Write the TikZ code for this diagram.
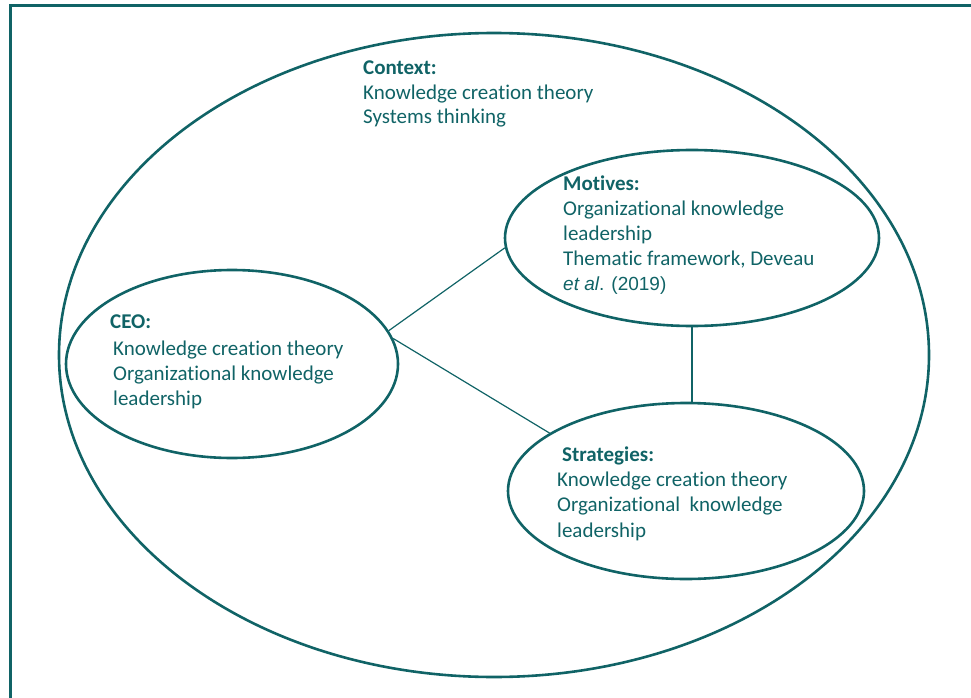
\documentclass[tikz,border=0pt]{standalone}
\usepackage{fontspec}
\setmainfont{Carlito}[Ligatures={NoCommon}]
\newfontfamily\arialfont{Liberation Sans}
\usetikzlibrary{shapes.geometric}
\definecolor{teal1}{RGB}{16,99,102}
\begin{document}
\begin{tikzpicture}[x=1pt,y=-1pt,
  oval/.style={draw=teal1,ellipse,inner sep=0pt,line width=2.6pt},
  link/.style={draw=teal1,line width=1.2pt},
  frame/.style={draw=teal1,line width=3.5pt},
  txt/.style={anchor=base west,inner sep=0pt,text=teal1,font=\fontsize{21}{25}\selectfont},
  ttl/.style={txt,font=\fontsize{21}{25}\selectfont\bfseries}]
\useasboundingbox (0,0) rectangle (971,698);
% frame
\coordinate (fa) at (10.5,698);
\coordinate (fb) at (10.5,4);
\coordinate (fc) at (971,5.5);
\draw[frame] (fa) -- (fb |- fc) -- (fc);
% ellipses
\node[oval,minimum width=870pt,minimum height=644pt] (outer) at (494,355) {};
\node[oval,minimum width=332pt,minimum height=188pt] (ceo) at (232,364) {};
\node[oval,minimum width=374pt,minimum height=176pt] (mot) at (692,238) {};
\node[oval,minimum width=356pt,minimum height=176pt] (str) at (686,491) {};
% connectors
\draw[link] (ceo.12) -- (mot.183.5);
\draw[link] (ceo.9) -- (str.157);
\draw[link] (mot.270) -- (mot.270 |- str.north);
% context
\node[ttl] (c0) at (363,75) {Context:};
\node[txt] (c1) at (363,100) {Knowledge creation theory};
\node[txt] (c2) at (363,124) {Systems thinking};
% motives
\node[ttl] (m0) at (563,190) {Motives:};
\node[txt] (m1) at (563,215) {Organizational knowledge};
\node[txt] (m2) at (563,240) {leadership};
\node[txt] (m3) at (563,265) {Thematic framework, Deveau};
\node[txt,font=\fontsize{19}{23}\arialfont] (m4) at (563,290) {\textit{et al}. (2019)};
% ceo
\node[ttl] (e0) at (110,328) {CEO:};
\node[txt] (e1) at (113,355) {Knowledge creation theory};
\node[txt] (e2) at (113,380) {Organizational knowledge};
\node[txt] (e3) at (113,405) {leadership};
% strategies
\node[ttl] (s0) at (562,461) {Strategies:};
\node[txt] (s1) at (557,486) {Knowledge creation theory};
\node[txt] (s2) at (557,511) {Organizational\ \ knowledge};
\node[txt] (s3) at (557,537) {leadership};
\end{tikzpicture}
\end{document}
